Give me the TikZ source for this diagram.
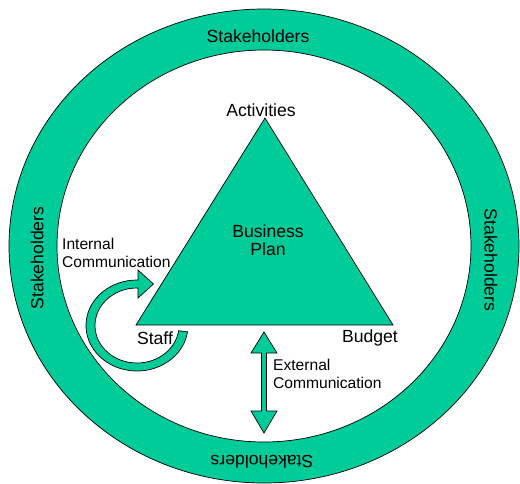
\documentclass[tikz,border=0pt]{standalone}
\usepackage{fontspec}
\setmainfont{Liberation Sans}
\definecolor{ringgreen}{RGB}{0,204,153}
\begin{document}
\begin{tikzpicture}[x=1pt,y=-1pt,
  greenshape/.style={fill=ringgreen,draw=black,line width=0.7pt,line join=miter},
  biglabel/.style={font=\fontsize{17.6}{20}\selectfont,inner sep=0pt},
  smalllabel/.style={font=\fontsize{15.6}{17.5}\selectfont,inner sep=0pt,align=left}]
\useasboundingbox (0,0) rectangle (520,483);
\clip (0,0) rectangle (520,483);

% stakeholder ring
\coordinate (c) at (264,246);
\path[fill=ringgreen,even odd rule] (c) ellipse[x radius=255,y radius=237]
  (c) ellipse[x radius=207,y radius=196];
\draw[line width=0.7pt] (c) ellipse[x radius=255,y radius=237];
\draw[line width=0.7pt] (c) ellipse[x radius=207,y radius=196];

% business plan triangle
\coordinate (apex) at (265,118);
\coordinate (left) at (136,325);
\coordinate (right) at (393,325);
\draw[greenshape] (apex) -- (left) -- (right) -- cycle;

% internal communication: curved arrow around Staff
\coordinate (loop) at (137,325.5);
\draw[greenshape] ([shift={(8:51 and 45.5)}]loop)
  arc[start angle=8,end angle=270,x radius=51,y radius=45.5]
  -- (138,280) -- (138,270) -- (153.5,284) -- (138,298) -- (138,288)
  -- (137,288) arc[start angle=270,end angle=8,x radius=42,y radius=37.5] -- cycle;

% external communication: double arrow
\draw[greenshape] (264,332) -- (277,353) -- (266.5,353) -- (266.5,411) -- (277,411)
  -- (264,433) -- (251,411) -- (261.5,411) -- (261.5,353) -- (251,353) -- cycle;

% labels
\node[biglabel] (stTop) at (258,36) {Stakeholders};
\node[biglabel,rotate=90] (stLeft) at (37,258) {Stakeholders};
\node[biglabel,rotate=-90] (stRight) at (491,260) {Stakeholders};
\node[biglabel,rotate=180] (stBottom) at (262,462) {Stakeholders};
\node[biglabel] (act) at (261,110) {Activities};
\node[biglabel,align=center,font=\fontsize{17.6}{18}\selectfont] (bp) at (268,240) {Business\\Plan};
\node[biglabel] (staff) at (155,338) {Staff};
\node[biglabel] (budget) at (370,338) {Budget};
\node[smalllabel,anchor=north west] (intc) at (62,238) {Internal\\Communication};
\node[smalllabel,anchor=north west] (extc) at (273,359) {External\\Communication};
\end{tikzpicture}
\end{document}
